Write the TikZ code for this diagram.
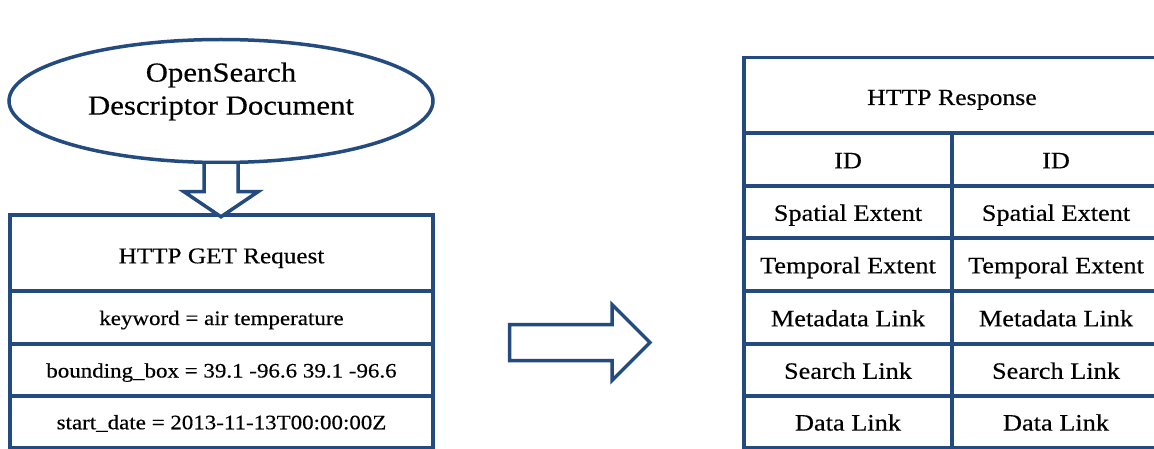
\documentclass[tikz,border=0pt]{standalone}
\usepackage{fontspec}
\setmainfont{Liberation Serif}[FakeStretch=1.12,FakeBold=0.4]
\usetikzlibrary{shapes.geometric}
\definecolor{outl}{RGB}{35,75,128}
\begin{document}
\begin{tikzpicture}[x=1pt,y=-1pt,
  box/.style={draw=outl, line width=3.5pt, inner sep=0pt, text=black, text depth=0pt},
  lbox/.style={box, minimum width=423pt, font=\fontsize{20.5}{24}\selectfont, text height=15pt},
  rcell/.style={box, minimum width=208pt, font=\fontsize{23.5}{28}\selectfont, text height=17.6pt},
  hollow/.style={draw=outl, line width=3.5pt, line join=miter, fill=white}]
\useasboundingbox (0,0) rectangle (1154,449);
% ellipse
\node[draw=outl, line width=3.5pt, ellipse, minimum width=424pt, minimum height=123pt, inner sep=0pt] (ell) at (221,101) {};
\node[align=center, font=\fontsize{27.5}{33}\selectfont, inner sep=0pt] (ellt) at (221,91.5) {OpenSearch\\Descriptor Document};
% request box
\node[lbox, minimum height=76pt, font=\fontsize{22.5}{27}\selectfont, text height=20.6pt] (req) at (221.5,253) {HTTP GET Request};
\node[lbox, minimum height=53pt] (kw) at (221.5,317.5) {keyword = air temperature};
\node[lbox, minimum height=52pt] (bb) at (221.5,370) {bounding\_box = 39.1 -96.6 39.1 -96.6};
\node[lbox, minimum height=51.5pt] (sd) at (221.5,421.75) {start\_date = 2013-11-13T00:00:00Z};
% down arrow
\draw[hollow, shift={(ell.south)}] (-17,0) -- (-17,27.5) -- (-37,27.5) -- (0,52.5) -- (37,27.5) -- (17,27.5) -- (17,0);
% right arrow
\coordinate (ra) at (509.5,342.5);
\draw[hollow, shift={(ra)}] (0,-18) -- (102.5,-18) -- (102.5,-38) -- (140.5,0) -- (102.5,38) -- (102.5,18) -- (0,18) -- cycle;
% response table
\node[box, minimum width=416pt, minimum height=75.5pt, font=\fontsize{23}{28}\selectfont, text height=19.5pt] (resp) at (952,95.25) {HTTP Response};
\node[rcell, minimum height=53pt] (id1) at (848,159.5) {ID};
\node[rcell, minimum height=53pt] (id2) at (1056,159.5) {ID};
\node[rcell, minimum height=52pt] (sp1) at (848,212) {Spatial Extent};
\node[rcell, minimum height=52pt] (sp2) at (1056,212) {Spatial Extent};
\node[rcell, minimum height=53pt] (te1) at (848,264.5) {Temporal Extent};
\node[rcell, minimum height=53pt] (te2) at (1056,264.5) {Temporal Extent};
\node[rcell, minimum height=53pt] (md1) at (848,317.5) {Metadata Link};
\node[rcell, minimum height=53pt] (md2) at (1056,317.5) {Metadata Link};
\node[rcell, minimum height=52pt] (sl1) at (848,370) {Search Link};
\node[rcell, minimum height=52pt] (sl2) at (1056,370) {Search Link};
\node[rcell, minimum height=51.5pt] (dl1) at (848,421.75) {Data Link};
\node[rcell, minimum height=51.5pt] (dl2) at (1056,421.75) {Data Link};
\end{tikzpicture}
\end{document}
